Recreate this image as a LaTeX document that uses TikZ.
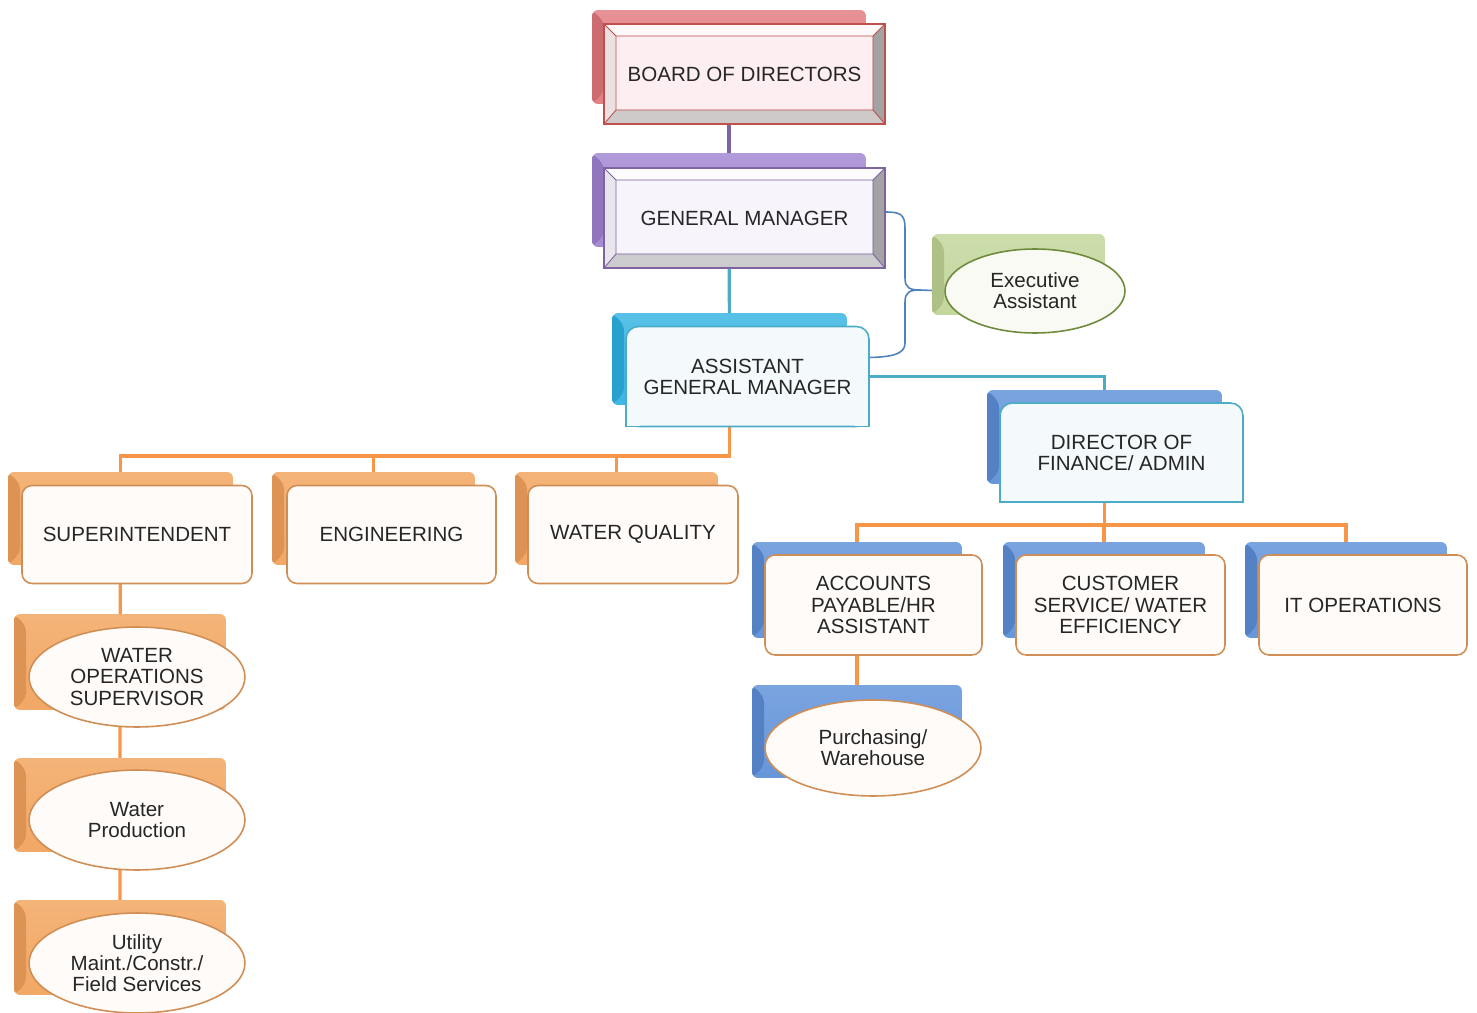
\documentclass[tikz,border=0pt]{standalone}
\usepackage{fontspec}
\setmainfont{Liberation Sans}
\usetikzlibrary{shapes.geometric,backgrounds}

\definecolor{redback}{HTML}{DE757B}
\definecolor{redlite}{HTML}{F4BFC1}
\definecolor{redline}{HTML}{C0504D}
\definecolor{redfill}{HTML}{FCEEF1}
\definecolor{purpback}{HTML}{9C80CE}
\definecolor{purplite}{HTML}{D3C5EE}
\definecolor{purpline}{HTML}{8064A2}
\definecolor{purpfill}{HTML}{F7F4FB}
\definecolor{greenback}{HTML}{BCD293}
\definecolor{greenlite}{HTML}{E6F0D4}
\definecolor{greenline}{HTML}{6F8A3C}
\definecolor{greenfill}{HTML}{F8FAF3}
\definecolor{cyanback}{HTML}{2DAFE0}
\definecolor{cyanlite}{HTML}{9FDDF4}
\definecolor{cyanline}{HTML}{4BACC6}
\definecolor{cyanfill}{HTML}{F4F9FC}
\definecolor{blueback}{HTML}{5A8CD5}
\definecolor{bluelite}{HTML}{AECBF1}
\definecolor{braceline}{HTML}{4F81BD}
\definecolor{orangeback}{HTML}{F0A05A}
\definecolor{orangelite}{HTML}{FBD3A8}
\definecolor{orangeline}{HTML}{F79646}
\definecolor{boxline}{HTML}{CF8E55}
\definecolor{boxfill}{HTML}{FFFBF8}

\begin{document}
\begin{tikzpicture}[x=0.02cm, y=-0.02cm,
    every node/.style={font=\fontsize{11.7}{12}\selectfont, text=black!85,
      align=center, inner sep=0pt, outer sep=0pt},
    back/.style 2 args={rectangle, rounded corners=0.12cm, top color=#1!62!#2, bottom color=#1!85!#2,
      path picture={
        \fill[#1!92!black] (path picture bounding box.north west) -- ++(0.24cm,-0.24cm)
          -- ([shift={(0.24cm,0.24cm)}]path picture bounding box.south west)
          -- (path picture bounding box.south west) -- cycle;
      }},
    bevel/.style 2 args={rectangle, draw=#1, line width=0.9pt, fill=#2,
      minimum width=5.62cm, minimum height=2cm,
      path picture={
        \path (path picture bounding box.north west) coordinate (p1)
          (path picture bounding box.north east) coordinate (p2)
          (path picture bounding box.south east) coordinate (p3)
          (path picture bounding box.south west) coordinate (p4);
        \path ([shift={(0.24cm,-0.24cm)}]p1) coordinate (q1)
          ([shift={(-0.24cm,-0.24cm)}]p2) coordinate (q2)
          ([shift={(-0.24cm,0.28cm)}]p3) coordinate (q3)
          ([shift={(0.24cm,0.28cm)}]p4) coordinate (q4);
        \fill[white!60!#2] (p1) -- (p2) -- (q2) -- (q1) -- cycle;
        \fill[#2!94!black] (p1) -- (q1) -- (q4) -- (p4) -- cycle;
        \fill[gray!72] (p2) -- (p3) -- (q3) -- (q2) -- cycle;
        \fill[#1!10!gray!40] (p4) -- (p3) -- (q3) -- (q4) -- cycle;
        \draw[#1, line width=0.5pt] (q1) -- (q2) -- (q3) -- (q4) -- cycle
          (p1) -- (q1) (p2) -- (q2) (p3) -- (q3) (p4) -- (q4);
      }},
    tbox/.style={rectangle, rounded corners=0.25cm, draw=cyanline, fill=cyanfill,
      line width=0.9pt, minimum width=4.86cm, minimum height=2cm},
    obox/.style={rectangle, rounded corners=0.2cm, draw=boxline, fill=boxfill,
      line width=0.9pt, minimum height=1.96cm},
    oval/.style={ellipse, draw=boxline, fill=boxfill, line width=0.9pt,
      minimum width=4.32cm, minimum height=2cm},
    purplelink/.style={draw=purpline, line width=1.8pt},
    cyanlink/.style={draw=cyanline, line width=1.8pt},
    orangelink/.style={draw=orangeline, line width=1.8pt},
    bracelink/.style={draw=braceline, line width=0.9pt}]

    \useasboundingbox (0,0) rectangle (1477,1013);

    % back shapes
    \node[back={redback}{redlite}, minimum width=5.48cm, minimum height=1.88cm] (boardb) at (729,57) {};
    \node[back={purpback}{purplite}, minimum width=5.48cm, minimum height=1.88cm] (gmb) at (729,200) {};
    \node[back={greenback}{greenlite}, minimum width=3.46cm, minimum height=1.62cm] (execb) at (1018.5,274.5) {};
    \node[back={cyanback}{cyanlite}, minimum width=4.7cm, minimum height=1.84cm] (agmb) at (729.5,359) {};
    \node[back={blueback}{bluelite}, minimum width=4.7cm, minimum height=1.88cm] (dirb) at (1104.5,437) {};
    \node[back={orangeback}{orangelite}, minimum width=4.5cm, minimum height=1.86cm] (supb) at (120.5,518.5) {};
    \node[back={orangeback}{orangelite}, minimum width=4.06cm, minimum height=1.86cm] (engb) at (373.5,518.5) {};
    \node[back={orangeback}{orangelite}, minimum width=4.06cm, minimum height=1.86cm] (wqb) at (616.5,518.5) {};
    \node[back={orangeback}{orangelite}, minimum width=4.24cm, minimum height=1.92cm] (wosb) at (120,662) {};
    \node[back={orangeback}{orangelite}, minimum width=4.24cm, minimum height=1.88cm] (wprodb) at (120,805) {};
    \node[back={orangeback}{orangelite}, minimum width=4.24cm, minimum height=1.9cm] (utilb) at (120,947.5) {};
    \node[back={blueback}{bluelite}, minimum width=4.2cm, minimum height=1.92cm] (accb) at (857,590) {};
    \node[back={blueback}{bluelite}, minimum width=4.04cm, minimum height=1.92cm] (custb) at (1104,590) {};
    \node[back={blueback}{bluelite}, minimum width=4.04cm, minimum height=1.92cm] (itb) at (1346,590) {};
    \node[back={blueback}{bluelite}, minimum width=4.2cm, minimum height=1.86cm] (purchb) at (857,731.5) {};

    % front boxes
    \node[bevel={redline}{redfill}] (board) at (744.5,74) {BOARD OF DIRECTORS};
    \node[bevel={purpline}{purpfill}] (gm) at (744.5,218) {GENERAL MANAGER};
    \node[oval, draw=greenline, fill=greenfill, minimum width=3.6cm, minimum height=1.68cm] (exec) at (1035,291) {Executive\\Assistant};
    \node[tbox] (agm) at (747.5,376.5) {ASSISTANT\\GENERAL MANAGER};
    \node[tbox, minimum height=1.98cm] (dir) at (1121.5,452.5) {DIRECTOR OF\\FINANCE/ ADMIN};
    \node[obox, minimum width=4.6cm] (sup) at (137,534.5) {SUPERINTENDENT};
    \node[obox, minimum width=4.18cm] (eng) at (391.5,534.5) {ENGINEERING};
    \node[obox, minimum width=4.2cm] (wq) at (633,534.5) {WATER QUALITY};
    \node[oval] (wos) at (137,677) {WATER\\OPERATIONS\\SUPERVISOR};
    \node[oval] (wprod) at (137,820) {Water\\Production};
    \node[oval] (util) at (137,963) {Utility\\Maint./Constr./\\Field Services};
    \node[obox, minimum width=4.34cm, minimum height=2cm] (acc) at (873.5,605) {ACCOUNTS\\PAYABLE/HR\\ASSISTANT};
    \node[obox, minimum width=4.18cm, minimum height=2cm] (cust) at (1120.5,605) {CUSTOMER\\SERVICE/ WATER\\EFFICIENCY};
    \node[obox, minimum width=4.16cm, minimum height=2cm] (itops) at (1363,605) {IT OPERATIONS};
    \node[oval, minimum height=1.92cm] (purch) at (873,748) {Purchasing/\\Warehouse};

    % square bottom corners
    \foreach \n in {agm,dir} {
      \filldraw[draw=cyanline, fill=cyanfill, line width=0.9pt] ([yshift=0.3cm]\n.south west) -- (\n.south west) -- ([xshift=0.3cm]\n.south west);
      \filldraw[draw=cyanline, fill=cyanfill, line width=0.9pt] ([yshift=0.3cm]\n.south east) -- (\n.south east) -- ([xshift=-0.3cm]\n.south east);
    }

    \coordinate (lbus) at (0,456);
    \coordinate (rbus) at (0,525);

    % connectors
    \begin{scope}[on background layer]
      \draw[purplelink] (boardb.center) -- (gmb.center);
      \draw[cyanlink] (gmb.center) -- (agmb.center);
      \draw[cyanlink] (agm.east) -| (dirb.center);
      \foreach \n in {supb,engb,wqb}
        \draw[orangelink] (agmb.center) -- (agmb.center |- lbus) -| (\n.center);
      \draw[orangelink] (supb.center) -- (wosb.center) -- (wprodb.center) -- (utilb.center);
      \foreach \n in {accb,custb,itb}
        \draw[orangelink] (dirb.center) -- (dirb.center |- rbus) -| (\n.center);
      \draw[orangelink] (accb.center) -- (purchb.center);
      \draw[bracelink] ([yshift=0.12cm]gm.east) .. controls (900,212) and (905,214) .. (905,228)
        -- (905,278) .. controls (905,288) and (910,290) .. (920,290) -- (exec.west)
        (920,290) .. controls (910,290) and (905,292) .. (905,302)
        -- (905,343) .. controls (905,353) and (895,357) .. ([yshift=0.38cm]agm.east);
    \end{scope}
\end{tikzpicture}
\end{document}
